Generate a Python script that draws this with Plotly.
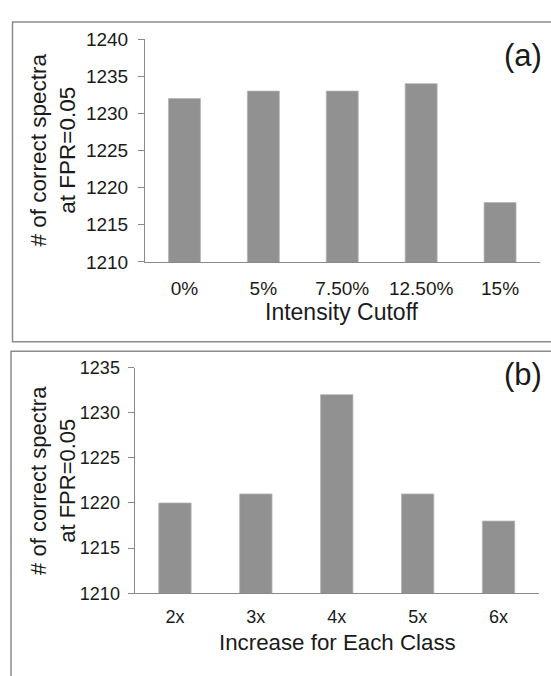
import plotly.graph_objects as go

# ---- data ----
cutoff_labels = ["0%", "5%", "7.50%", "12.50%", "15%"]
cutoff_values = [1232, 1233, 1233, 1234, 1218]

increase_labels = ["2x", "3x", "4x", "5x", "6x"]
increase_values = [1220, 1221, 1232, 1221, 1218]

y_title = "# of correct spectra<br>at FPR=0.05"
x_title_a = "Intensity Cutoff"
x_title_b = "Increase for Each Class"

W, H = 551, 676
FONT = "Arial, 'Liberation Sans', sans-serif"
TXT = "#1a1a1a"
AX = "#8a8a8a"
BAR = "#919191"

def px(x):
    return x / W

def py(y):
    return 1 - y / H

fig = go.Figure()
fig.add_trace(go.Bar(x=cutoff_labels, y=cutoff_values, width=0.405,
                     marker=dict(color=BAR, line=dict(color="#b5b5b5", width=0.8)),
                     xaxis="x", yaxis="y", showlegend=False, hoverinfo="skip"))
fig.add_trace(go.Bar(x=increase_labels, y=increase_values, width=0.4,
                     marker=dict(color=BAR, line=dict(color="#b5b5b5", width=0.8)),
                     xaxis="x2", yaxis="y2", showlegend=False, hoverinfo="skip"))

common_x = dict(type="category", range=[-0.5, 4.5], showline=True, linecolor=AX,
                linewidth=1, ticks="", showgrid=False, zeroline=False)
common_y = dict(showline=True, linecolor=AX, linewidth=1, ticks="outside", ticklen=6,
                tickcolor=AX, tickwidth=1, showgrid=False, zeroline=False, dtick=5)

fig.update_layout(
    width=W, height=H,
    margin=dict(l=0, r=0, t=0, b=0),
    paper_bgcolor="white", plot_bgcolor="white",
    xaxis=dict(domain=[px(145), px(539.5)], anchor="y", ticklabelstandoff=9,
               tickfont=dict(family=FONT, size=19, color=TXT), **common_x),
    yaxis=dict(domain=[py(260), py(30)], anchor="x", range=[1210, 1240],
               ticklabelstandoff=6, tickfont=dict(family=FONT, size=19, color=TXT),
               **common_y),
    xaxis2=dict(domain=[px(134.5), px(539)], anchor="y2", ticklabelstandoff=7,
                tickfont=dict(family=FONT, size=18, color=TXT), **common_x),
    yaxis2=dict(domain=[py(602), py(369)], anchor="x2", range=[1210, 1235],
                ticklabelstandoff=4, tickfont=dict(family=FONT, size=18, color=TXT),
                **common_y),
)

annos = [
    dict(text=y_title, x=px(53), y=py(145), textangle=-90, size=22.5),
    dict(text=y_title, x=px(53), y=py(486), textangle=-90, size=22),
    dict(text=x_title_a, x=px(342), y=py(312), size=23),
    dict(text=x_title_b, x=px(337), y=py(653), size=22.3),
]
for a in annos:
    size = a.pop("size")
    fig.add_annotation(xref="paper", yref="paper", xanchor="center", yanchor="middle",
                       showarrow=False, font=dict(family=FONT, size=size, color=TXT), **a)

fig.add_annotation(text="(a)", xref="paper", yref="paper", x=px(522.5), y=py(47),
                   xanchor="center", yanchor="middle", showarrow=False,
                   font=dict(family=FONT, size=31, color=TXT))
fig.add_annotation(text="(b)", xref="paper", yref="paper", x=px(522.5), y=py(376),
                   xanchor="center", yanchor="middle", showarrow=False,
                   font=dict(family=FONT, size=31, color=TXT))

# panel frames
fig.add_shape(type="rect", xref="paper", yref="paper", x0=px(12.5), x1=px(570),
              y0=py(342.5), y1=py(12.5), line=dict(color="#8c8c8c", width=1.5))
fig.add_shape(type="rect", xref="paper", yref="paper", x0=px(11), x1=px(570),
              y0=py(700), y1=py(352.3), line=dict(color="#8c8c8c", width=1.5))

fig.write_html("out.html", config={"displayModeBar": False},
               post_script="document.body.style.margin='0';document.body.style.overflow='hidden';")
